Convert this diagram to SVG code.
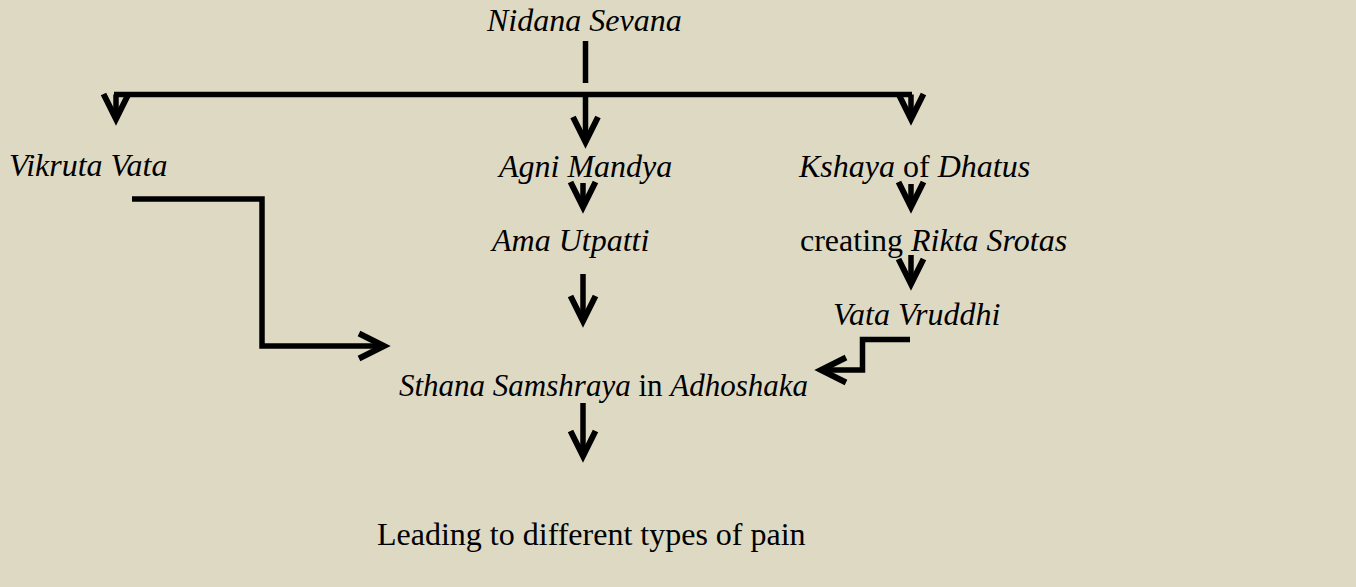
<svg xmlns="http://www.w3.org/2000/svg" width="1356" height="587" viewBox="0 0 1356 587">
<style>
.t{font-family:"Liberation Serif","Times New Roman",serif;font-size:32px;fill:#000}
.i{font-style:italic}
.n{font-style:normal}
.c{fill:none;stroke:#000;stroke-width:5.5;stroke-linejoin:miter}
.a{marker-end:url(#ah)}
</style>
<defs>
<marker id="ah" markerUnits="userSpaceOnUse" markerWidth="40" markerHeight="40" viewBox="-30 -20 40 40" refX="0" refY="0" orient="auto" overflow="visible">
<path d="M-25,-12.5 L0,0 L-25,12.5" fill="none" stroke="#000" stroke-width="6" stroke-linejoin="miter"/>
</marker>
</defs>
<rect x="0" y="0" width="1356" height="587" fill="#DDD9C3"/>
<g id="connectors">
<path class="c" d="M585.5,41 V83"/>
<path class="c" d="M114,94.5 H912"/>
<path class="c a" d="M116,94.5 V119"/>
<path class="c a" d="M585.5,94.5 V142"/>
<path class="c a" d="M911,94.5 V119"/>
<path class="c a" d="M583,183 V207"/>
<path class="c a" d="M583,274 V321"/>
<path class="c a" d="M911,184 V207"/>
<path class="c a" d="M911,255 V284"/>
<path class="c a" d="M583,403 V456"/>
<path class="c a" d="M132,199 H262 V346 H384"/>
<path class="c a" d="M910,339.5 H862.5 V370 H821"/>
</g>
<g id="nidana"><text class="t i" x="487" y="31">Nidana Sevana</text></g>
<g id="vikruta"><text class="t i" x="9" y="176">Vikruta Vata</text></g>
<g id="agni"><text class="t i" x="499" y="177">Agni Mandya</text></g>
<g id="kshaya"><text class="t i" x="799" y="177">Kshaya<tspan class="n"> of </tspan>Dhatus</text></g>
<g id="ama"><text class="t i" x="492" y="251">Ama Utpatti</text></g>
<g id="rikta"><text class="t" x="800" y="251">creating <tspan class="i">Rikta Srotas</tspan></text></g>
<g id="vruddhi"><text class="t i" x="833" y="325">Vata Vruddhi</text></g>
<g id="sthana"><text class="t i" x="399" y="396" style="font-size:31px">Sthana Samshraya<tspan class="n"> in </tspan>Adhoshaka</text></g>
<g id="pain"><text class="t" x="377" y="545">Leading to different types of pain</text></g>
</svg>
